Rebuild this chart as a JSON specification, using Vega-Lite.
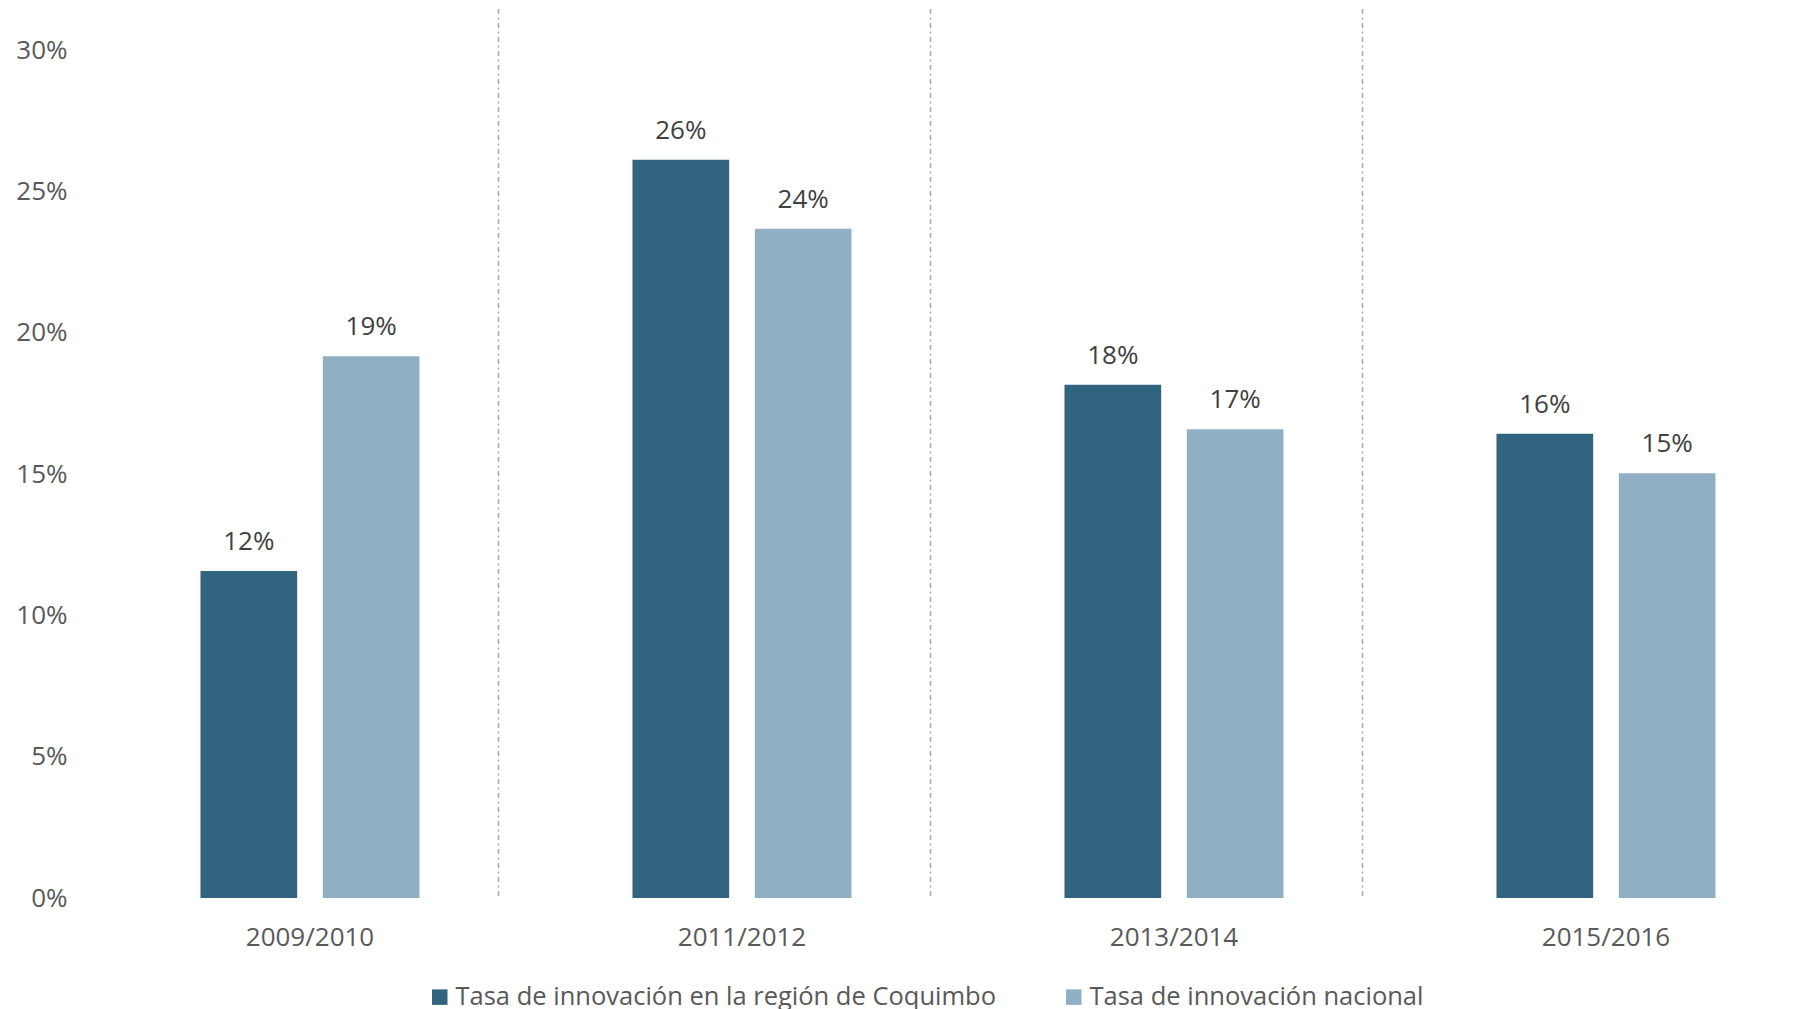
{
  "$schema": "https://vega.github.io/schema/vega-lite/v6.json",
  "width": 1706,
  "height": 848,
  "autosize": {"type": "none"},
  "padding": {"left": 94, "top": 50, "right": 0, "bottom": 111},
  "background": "white",
  "config": {"view": {"stroke": null}, "font": "Open Sans"},
  "datasets": {
    "barras": [
      {"periodo": "2009/2010", "serie": "Tasa de innovación en la región de Coquimbo", "valor": 0.1157},
      {"periodo": "2009/2010", "serie": "Tasa de innovación nacional", "valor": 0.1917},
      {"periodo": "2011/2012", "serie": "Tasa de innovación en la región de Coquimbo", "valor": 0.2612},
      {"periodo": "2011/2012", "serie": "Tasa de innovación nacional", "valor": 0.2368},
      {"periodo": "2013/2014", "serie": "Tasa de innovación en la región de Coquimbo", "valor": 0.1816},
      {"periodo": "2013/2014", "serie": "Tasa de innovación nacional", "valor": 0.1658},
      {"periodo": "2015/2016", "serie": "Tasa de innovación en la región de Coquimbo", "valor": 0.1642},
      {"periodo": "2015/2016", "serie": "Tasa de innovación nacional", "valor": 0.1503}
    ],
    "separadores": [
      {"periodo": "2009/2010"},
      {"periodo": "2011/2012"},
      {"periodo": "2013/2014"}
    ]
  },
  "layer": [
    {
      "data": {"name": "separadores"},
      "mark": {"type": "rule", "color": "#a6a6a6", "strokeWidth": 1.5, "strokeDash": [5, 3.5, 2, 3.5], "xOffset": 79},
      "encoding": {
        "x": {"field": "periodo", "type": "nominal", "bandPosition": 1,
              "scale": {"domain": ["2009/2010", "2011/2012", "2013/2014", "2015/2016"], "range": [0, 1728], "paddingInner": 0.493, "paddingOuter": 0.2465},
              "axis": {"title": null, "labelAngle": 0, "labelFontSize": 26, "labelColor": "#595959", "labelPadding": 26, "ticks": false, "domain": false, "grid": false}},
        "y": {"datum": 0.3145, "type": "quantitative"},
        "y2": {"datum": 0}
      }
    },
    {
      "data": {"name": "barras"},
      "mark": {"type": "bar"},
      "encoding": {
        "x": {"field": "periodo", "type": "nominal"},
        "xOffset": {"field": "serie", "type": "nominal", "scale": {"paddingInner": 0.21, "paddingOuter": 0}},
        "y": {"field": "valor", "type": "quantitative",
              "scale": {"domain": [0, 0.3], "nice": false, "clamp": false},
              "axis": {"title": null, "values": [0, 0.05, 0.1, 0.15, 0.2, 0.25, 0.3], "format": ".0%", "labelFontSize": 26, "labelColor": "#595959", "labelPadding": 27, "ticks": false, "domain": false, "gridColor": "#d9d9d9", "gridWidth": 2}},
        "color": {"field": "serie", "type": "nominal",
                  "scale": {"domain": ["Tasa de innovación en la región de Coquimbo", "Tasa de innovación nacional"], "range": ["#31647f", "#91afc4"]},
                  "legend": {"title": null, "orient": "none", "legendX": 333, "legendY": 934, "direction": "horizontal", "symbolType": "square", "symbolSize": 240, "symbolStrokeWidth": 0, "symbolOpacity": 1, "labelFontSize": 25.5, "labelColor": "#595959", "labelOffset": 3, "columnPadding": 64, "labelLimit": 0}}
      }
    },
    {
      "data": {"name": "barras"},
      "mark": {"type": "text", "fontSize": 26, "color": "#404040", "baseline": "alphabetic", "dy": -21},
      "encoding": {
        "x": {"field": "periodo", "type": "nominal"},
        "xOffset": {"field": "serie", "type": "nominal"},
        "y": {"field": "valor", "type": "quantitative"},
        "text": {"field": "valor", "type": "quantitative", "format": ".0%"}
      }
    }
  ]
}
